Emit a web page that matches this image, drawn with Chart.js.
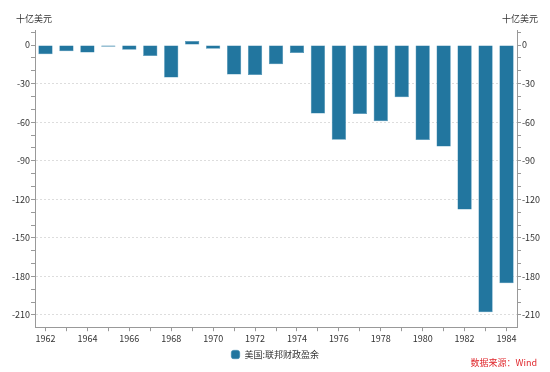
<!DOCTYPE html>
<html>
<head>
<meta charset="utf-8">
<script src="https://cdn.jsdelivr.net/npm/chart.js@4"></script>
<style>
  html, body { margin: 0; padding: 0; background: #fff; }
  #wrap { width: 550px; height: 372px; position: relative; }
</style>
</head>
<body>
<div id="wrap"><canvas id="budgetChart"></canvas></div>
<script>
// years and US federal surplus/deficit, billions of dollars
const years = ['1962','1963','1964','1965','1966','1967','1968','1969','1970','1971','1972','1973',
               '1974','1975','1976','1977','1978','1979','1980','1981','1982','1983','1984'];
const surplus = [-7.1, -4.8, -5.9, -1.4, -3.7, -8.6, -25.2, 3.2, -2.8, -23.0, -23.4, -14.9,
                 -6.1, -53.2, -73.7, -53.7, -59.2, -40.7, -73.8, -79.0, -128.0, -207.8, -185.4];
const seriesName = '美国:联邦财政盈余';
const unitLabel = '十亿美元';
const sourceText = '数据来源：Wind';

const font = "'Noto Sans CJK SC', 'Noto Sans', sans-serif";

// unit labels above both y axes, source note bottom right
const textPlugin = {
  id: 'extraText',
  afterDraw(chart) {
    const ctx = chart.ctx;
    const area = chart.chartArea;
    ctx.save();
    ctx.font = '9px ' + font;
    ctx.fillStyle = '#333';
    ctx.textBaseline = 'middle';
    ctx.textAlign = 'center';
    ctx.fillText(unitLabel, area.left - 1, 19);
    ctx.fillText(unitLabel, area.right + 3, 19);
    ctx.fillStyle = '#e0282d';
    ctx.textAlign = 'right';
    ctx.fillText(sourceText, 537, 363);
    ctx.restore();
  }
};

function yAxis(showGrid) {
  return {
    min: -219.5,
    max: 11.7,
    grid: {
      drawOnChartArea: showGrid,
      color: c => (c.tick && c.tick.value % 30 === 0 && c.tick.value !== 0) ? '#ddd' : 'rgba(0,0,0,0)',
      tickColor: '#999',
      tickLength: 4
    },
    border: { color: '#999', dash: [2, 2] },
    ticks: {
      stepSize: 10,
      includeBounds: false,
      autoSkip: false,
      padding: 1,
      color: '#333',
      font: { size: 9, family: font },
      callback: v => (v % 30 === 0 ? v : '')
    }
  };
}

const yLeft = yAxis(true);
yLeft.position = 'left';
yLeft.afterFit = s => { s.width = 35; };
const yRight = yAxis(false);
yRight.position = 'right';
yRight.afterFit = s => { s.width = 33; };

const ctx = document.getElementById('budgetChart').getContext('2d');
new Chart(ctx, {
  type: 'bar',
  data: {
    labels: years,
    datasets: [{
      label: seriesName,
      data: surplus,
      backgroundColor: '#22769f',
      borderColor: '#3d8ab0',
      borderWidth: 0.5,
      barPercentage: 0.68,
      categoryPercentage: 1,
      yAxisID: 'y'
    }]
  },
  plugins: [textPlugin],
  options: {
    responsive: true,
    maintainAspectRatio: false,
    animation: false,
    layout: { padding: { top: 30, bottom: 3, left: 0, right: 0 } },
    scales: {
      x: {
        offset: true,
        border: { color: '#999' },
        grid: { drawOnChartArea: false, tickColor: '#999', tickLength: 4, offset: false },
        ticks: {
          autoSkip: false,
          maxRotation: 0,
          padding: 2,
          color: '#333',
          font: { size: 9, family: font },
          callback: (v, i) => (i % 2 === 0 ? years[i] : '')
        }
      },
      y: yLeft,
      y2: yRight
    },
    plugins: {
      legend: {
        position: 'bottom',
        labels: {
          boxWidth: 12,
          boxHeight: 7,
          usePointStyle: true,
          pointStyle: 'rectRounded',
          color: '#333',
          padding: 4,
          font: { size: 9, family: font }
        }
      },
      tooltip: { enabled: false }
    }
  }
});
</script>
</body>
</html>
